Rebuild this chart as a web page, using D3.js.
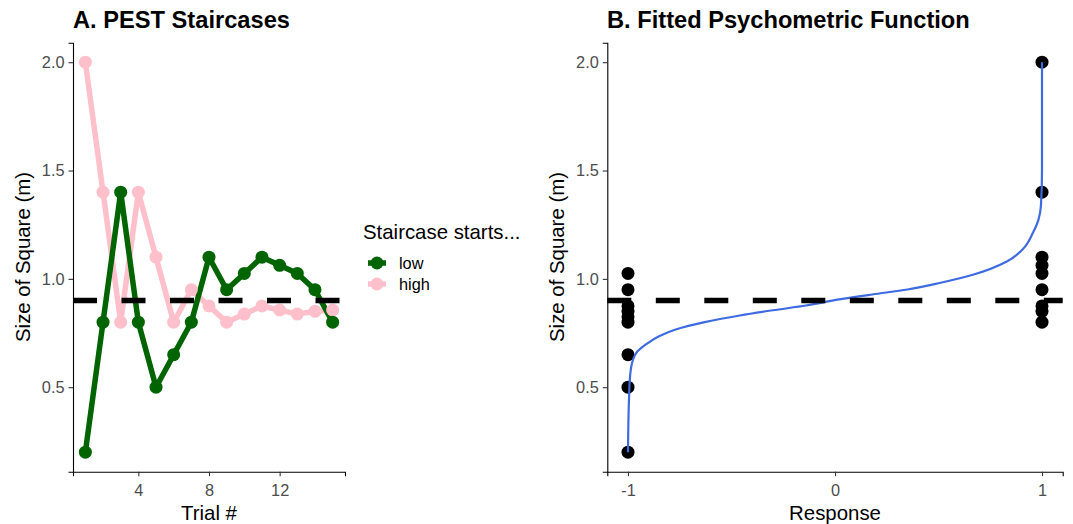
<!DOCTYPE html>
<html>
<head>
<meta charset="utf-8">
<script src="https://cdn.jsdelivr.net/npm/d3@7"></script>
<style>
body { margin: 0; background: white; }
text { font-family: "Liberation Sans", Arial, sans-serif; }
</style>
</head>
<body>
<svg></svg>
<script>
var w = 1073
var h = 524

// data
var trials = [1, 2, 3, 4, 5, 6, 7, 8, 9, 10, 11, 12, 13, 14, 15]
var lowSizes = [0.2, 0.8, 1.4, 0.8, 0.5, 0.65, 0.8, 1.1, 0.95, 1.025, 1.1, 1.0625, 1.025, 0.95, 0.8]
var highSizes = [2.0, 1.4, 0.8, 1.4, 1.1, 0.8, 0.95, 0.875, 0.8, 0.8375, 0.875, 0.8563, 0.8375, 0.85, 0.8563]
var seriesNames = ["low", "high"]
var seriesColors = ["#006400", "#FFC0CB"]
var threshold = 0.9

var sizeTicks = [0.5, 1.0, 1.5, 2.0]
var trialTicks = [4, 8, 12]
var responseTicks = [-1, 0, 1]

var negSizes = [1.025, 0.95, 0.875, 0.85, 0.825, 0.8, 0.65, 0.5, 0.2]
var posSizes = [2.0, 1.4, 1.1, 1.0625, 1.025, 0.95, 0.875, 0.85, 0.8]

var curveResponse = [-1.0, -0.995, -0.99, -0.978, -0.955, -0.91, -0.85, -0.77, -0.63, -0.46, -0.30, -0.14, 0.02, 0.18, 0.35, 0.51, 0.67, 0.83, 0.91, 0.955, 0.982, 0.995, 1.0, 1.0]
var curveSize = [0.2, 0.45, 0.55, 0.62, 0.665, 0.70, 0.735, 0.766, 0.80, 0.831, 0.855, 0.877, 0.905, 0.928, 0.951, 0.982, 1.02, 1.08, 1.14, 1.21, 1.27, 1.34, 1.5, 2.0]

var plotTop = 42.7, plotBottom = 471.7
var baseSize = 20.4

var svg = d3.select("svg")
	.attr("width", w)
	.attr("height", h)
	.style("background-color", "white")

var y = d3.scaleLinear()
	.domain([0.11, 2.09])
	.range([plotBottom, plotTop])

var xTrial = d3.scaleLinear()
	.domain([0.3, 15.7])
	.range([73, 345])

var xResp = d3.scaleLinear()
	.domain([-1.1, 1.1])
	.range([607.3, 1062.7])

function label(g, x, yy, txt, size, opts){
	opts = opts || {}
	return g.append("text")
		.attr("transform", "translate(" + x + "," + yy + ")" + (opts.rotate ? " rotate(" + opts.rotate + ")" : ""))
		.attr("text-anchor", opts.anchor || "start")
		.attr("font-size", size)
		.attr("font-weight", opts.bold ? "bold" : "normal")
		.attr("fill", opts.fill || "black")
		.text(txt)
}

function drawAxes(x, ticks, xLeft){
	var gx = svg.append("g")
		.attr("transform", "translate(0," + plotBottom + ")")
		.call(d3.axisBottom(x).tickValues(ticks).tickSizeOuter(0).tickSize(4.5).tickFormat(function(d){ return String(d) }))
	var gy = svg.append("g")
		.attr("transform", "translate(" + xLeft + ",0)")
		.call(d3.axisLeft(y).tickValues(sizeTicks).tickSizeOuter(0).tickSize(4.5).tickFormat(function(d){ return d.toFixed(1) }))

	;[gx, gy].forEach(function(g){
		g.select(".domain").attr("stroke", "black").attr("stroke-width", 1.1)
		g.selectAll(".tick line").attr("stroke", "#333").attr("stroke-width", 1.1)
		g.selectAll(".tick text")
			.attr("font-family", "Liberation Sans, Arial, sans-serif")
			.attr("font-size", baseSize * 0.8)
			.attr("fill", "#4D4D4D")
	})
	gx.selectAll(".tick text").attr("y", 12.3)
	gy.selectAll(".tick text").attr("x", -8.5)
}

function dashed(x0, x1){
	svg.append("line")
		.attr("x1", x0).attr("x2", x1)
		.attr("y1", y(threshold)).attr("y2", y(threshold))
		.attr("stroke", "black")
		.attr("stroke-width", 5.6)
		.attr("stroke-dasharray", "24,24.5")
}

// ---- Panel A ----
label(svg, 73, 27.5, "A. PEST Staircases", baseSize * 1.16, {bold: true})
drawAxes(xTrial, trialTicks, 73)
label(svg, 209, 519.5, "Trial #", baseSize, {anchor: "middle"})
label(svg, 29.5, 257, "Size of Square (m)", baseSize, {anchor: "middle", rotate: -90})

var lineMaker = d3.line()
	.x(function(d){ return xTrial(d.t) })
	.y(function(d){ return y(d.v) })

var series = [
	{name: seriesNames[0], color: seriesColors[0], vals: lowSizes},
	{name: seriesNames[1], color: seriesColors[1], vals: highSizes}
]
series.forEach(function(s){
	s.points = trials.map(function(t, i){ return {t: t, v: s.vals[i]} })
})

// pink first so the green sits on top, as in the picture
var drawOrder = [series[1], series[0]]
drawOrder.forEach(function(s){
	svg.append("path")
		.attr("d", lineMaker(s.points))
		.attr("fill", "none")
		.attr("stroke", s.color)
		.attr("stroke-width", 5.5)
		.attr("stroke-linejoin", "round")
})
drawOrder.forEach(function(s){
	svg.selectAll(null)
		.data(s.points)
		.enter().append("circle")
		.attr("cx", function(d){ return xTrial(d.t) })
		.attr("cy", function(d){ return y(d.v) })
		.attr("r", 6.5)
		.attr("fill", s.color)
})
dashed(73, 345)

// legend
var leg = svg.append("g")
label(leg, 363, 239, "Staircase starts...", baseSize)
series.forEach(function(s, i){
	var cy = 263 + i * 21
	leg.append("line")
		.attr("x1", 368).attr("x2", 386)
		.attr("y1", cy).attr("y2", cy)
		.attr("stroke", s.color).attr("stroke-width", 5.5)
	leg.append("circle")
		.attr("cx", 377).attr("cy", cy)
		.attr("r", 6.5)
		.attr("fill", s.color)
	label(leg, 399, cy + 5.8, s.name, baseSize * 0.8)
})

// ---- Panel B ----
label(svg, 607, 27.5, "B. Fitted Psychometric Function", baseSize * 1.16, {bold: true})
drawAxes(xResp, responseTicks, 607.3)
label(svg, 835, 519.5, "Response", baseSize, {anchor: "middle"})
label(svg, 563.5, 257, "Size of Square (m)", baseSize, {anchor: "middle", rotate: -90})

var curvePts = curveResponse.map(function(r, i){ return {r: r, v: curveSize[i]} })
var curveLine = d3.line()
	.x(function(d){ return xResp(d.r) })
	.y(function(d){ return y(d.v) })
	.curve(d3.curveMonotoneY)

var dots = negSizes.map(function(v){ return {r: -1, v: v} })
	.concat(posSizes.map(function(v){ return {r: 1, v: v} }))

svg.selectAll(null)
	.data(dots)
	.enter().append("circle")
	.attr("cx", function(d){ return xResp(d.r) })
	.attr("cy", function(d){ return y(d.v) })
	.attr("r", 6.5)
	.attr("fill", "black")

svg.append("path")
	.attr("d", curveLine(curvePts))
	.attr("fill", "none")
	.attr("stroke", "#3E6BE0")
	.attr("stroke-width", 2.2)

dashed(607.3, 1062.7)
</script>
</body>
</html>
